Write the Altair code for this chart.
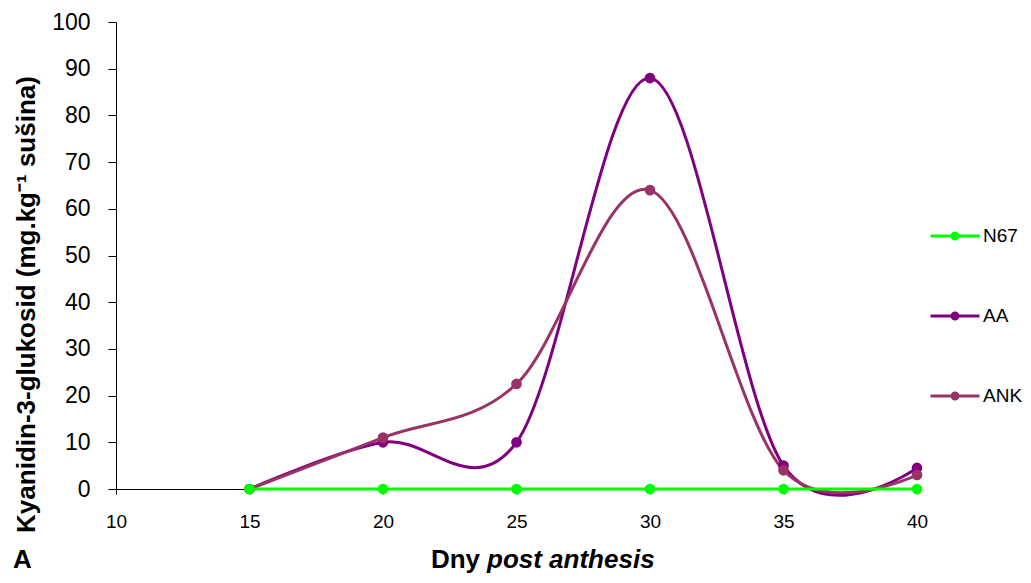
import altair as alt
import pandas as pd

days = [15, 20, 25, 30, 35, 40]
n67 = [0, 0, 0, 0, 0, 0]
aa = [0, 10, 10, 88, 5, 4.5]
ank = [0, 11, 22.5, 64, 4, 3]
series_names = ["N67", "AA", "ANK"]
series_colors = ["#00FF00", "#800080", "#993366"]
x_ticks = [10, 15, 20, 25, 30, 35, 40]
y_ticks = [0, 10, 20, 30, 40, 50, 60, 70, 80, 90, 100]
y_title = "Kyanidin-3-glukosid (mg.kg\u207b\u00b9 sušina)"

rows = []
for name, vals in [("AA", aa), ("ANK", ank), ("N67", n67)]:
    for d, v in zip(days, vals):
        rows.append({"day": d, "value": v, "series": name})
df = pd.DataFrame(rows)

FONT = "Liberation Sans"

legend_path = ("M-1,0L1,0M-0.12,0A0.12,0.12,0,1,0,0.12,0"
               "A0.12,0.12,0,1,0,-0.12,0")

color = alt.Color(
    "series:N",
    scale=alt.Scale(domain=series_names, range=series_colors),
    legend=alt.Legend(
        title=None, orient="none", legendX=813, legendY=188,
        symbolType=legend_path, symbolSize=2400, symbolStrokeWidth=3,
        labelFontSize=19, labelFont=FONT, labelColor="#000000",
        labelOffset=2, rowPadding=44, padding=0,
    ),
)

x = alt.X(
    "day:Q",
    scale=alt.Scale(domain=[10, 40], nice=False, zero=False),
    axis=alt.Axis(values=x_ticks, title=None, grid=False, tickSize=5,
                  labelPadding=18, labelFontSize=19, format="d",
                  labelFlush=False),
)
y = alt.Y(
    "value:Q",
    scale=alt.Scale(domain=[0, 100], nice=False),
    axis=alt.Axis(values=y_ticks, grid=False, tickSize=8, labelPadding=18,
                  labelFontSize=23, title=y_title, titleFontSize=26,
                  titleFontWeight="bold", titleFont=FONT, titleX=-90,
                  titleY=282, titleAngle=270, titleBaseline="middle",
                  titleAlign="center", titleColor="#000000",
                  labelFlush=False),
)

lines = alt.Chart(df).mark_line(interpolate="cardinal", strokeWidth=3).encode(
    x=x, y=y, color=color
)
points = alt.Chart(df).mark_point(filled=True, size=115, opacity=1).encode(
    x=x, y=y, color=color
)

xt1 = alt.Chart(pd.DataFrame({"t": ["Dny"]})).mark_text(
    align="right", baseline="alphabetic", font=FONT, fontSize=26,
    fontWeight="bold", color="#000000"
).encode(text="t:N", x=alt.value(364), y=alt.value(546))
xt2 = alt.Chart(pd.DataFrame({"t": ["post anthesis"]})).mark_text(
    align="left", baseline="alphabetic", font=FONT, fontSize=26,
    fontWeight="bold", fontStyle="italic", color="#000000"
).encode(text="t:N", x=alt.value(371), y=alt.value(546))
lab = alt.Chart(pd.DataFrame({"t": ["A"]})).mark_text(
    align="left", baseline="alphabetic", font=FONT, fontSize=26,
    fontWeight="bold", color="#000000"
).encode(text="t:N", x=alt.value(-103), y=alt.value(546))

chart = alt.layer(lines, points, xt1, xt2, lab).properties(
    width=801, height=467,
    autosize=alt.AutoSizeParams(type="none"),
    padding={"left": 108, "top": 14, "right": 106, "bottom": 86},
).configure_view(stroke=None).configure_axis(
    domainColor="#000000", tickColor="#000000", labelColor="#000000",
    labelFont=FONT, domainWidth=1, tickWidth=1,
)

chart.save("out.html", embed_options={"renderer": "svg", "actions": False})
